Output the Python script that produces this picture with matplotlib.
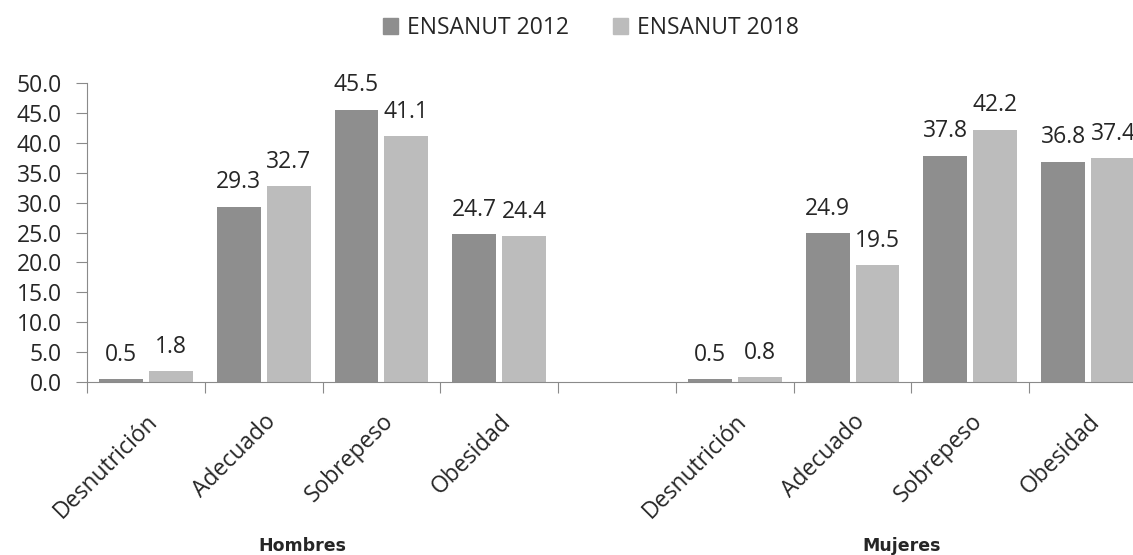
import matplotlib.pyplot as plt
from matplotlib.patches import Patch
import numpy as np

plt.rcParams['font.family'] = ['Open Sans', 'DejaVu Sans']

# BMI categories per sex, with an empty slot between the two groups
categorias = ["Desnutrición", "Adecuado", "Sobrepeso", "Obesidad", "",
              "Desnutrición", "Adecuado", "Sobrepeso", "Obesidad"]
ensanut_2012 = [0.5, 29.3, 45.5, 24.7, None, 0.5, 24.9, 37.8, 36.8]
ensanut_2018 = [1.8, 32.7, 41.1, 24.4, None, 0.8, 19.5, 42.2, 37.4]
series_names = ["ENSANUT 2012", "ENSANUT 2018"]
grupos = ["Hombres", "Mujeres"]
grupo_pos = [1.33, 6.42]

c_2012 = "#8e8e8e"
c_2018 = "#bcbcbc"
txt = "#262626"
axis_c = "#8a8a8a"
fs = 16.5

fig = plt.figure(figsize=(11.33, 5.55), dpi=100)
ax = fig.add_axes([87 / 1133, 173 / 555, 1060 / 1133, 299 / 555])

x = np.arange(len(categorias))
w = 0.373
off = 0.212
for vals, sign, col in [(ensanut_2012, -1, c_2012), (ensanut_2018, 1, c_2018)]:
    for xi, v in zip(x, vals):
        if v is None:
            continue
        ax.bar(xi + sign * off, v, width=w, color=col, zorder=2)
        ax.annotate(f"{v:.1f}", (xi + sign * off, v), xytext=(0, 9),
                    textcoords="offset points", ha="center", va="bottom",
                    fontsize=fs, color=txt)

ax.set_xlim(-0.5, len(categorias) - 0.5)
ax.set_ylim(0, 50)
ax.set_yticks(np.arange(0, 50.1, 5))
ax.set_yticklabels([f"{t:.1f}" for t in np.arange(0, 50.1, 5)])

# tick marks on slot boundaries, labels on slot centers
ax.set_xticks(np.arange(-0.5, len(categorias), 1.0))
ax.set_xticklabels([])
ax.set_xticks(x, minor=True)
ax.set_xticklabels(categorias, minor=True, rotation=45, ha="right",
                   rotation_mode="anchor", fontsize=fs, color=txt)
ax.tick_params(axis="x", which="minor", length=0, pad=20)
ax.tick_params(axis="x", which="major", length=8, color=axis_c)
ax.tick_params(axis="y", length=8, color=axis_c, labelsize=fs,
               labelcolor=txt, pad=10)

for s in ["top", "right"]:
    ax.spines[s].set_visible(False)
for s in ["left", "bottom"]:
    ax.spines[s].set_color(axis_c)

for g, gx in zip(grupos, grupo_pos):
    ax.text(gx, -0.55, g, transform=ax.get_xaxis_transform(), ha="center",
            va="center", fontsize=12.5, fontweight="bold", color=txt,
            family=["DejaVu Sans"])

handles = [Patch(color=c_2012), Patch(color=c_2018)]
fig.legend(handles, series_names, loc="center", bbox_to_anchor=(591 / 1133, 1 - 28 / 555),
           ncol=2, frameon=False, fontsize=fs, handlelength=0.65, handleheight=0.65,
           handletextpad=0.4, columnspacing=1.9, labelcolor=txt)

fig.savefig("out.png", dpi=100, facecolor="white")
